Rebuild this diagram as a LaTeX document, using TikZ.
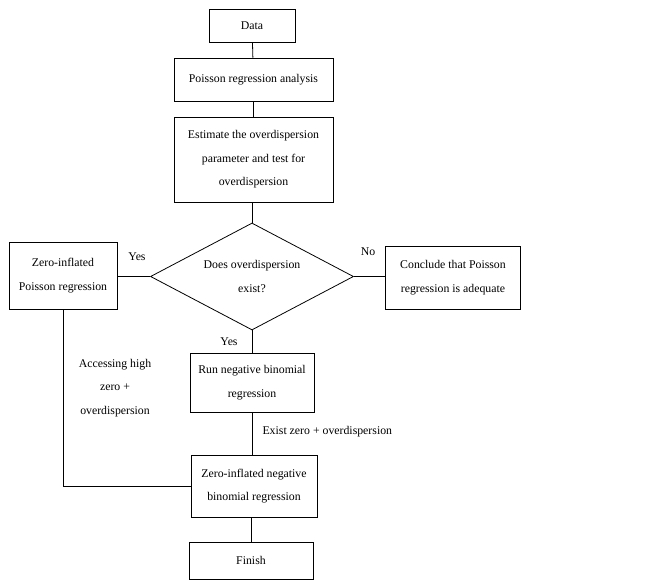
\documentclass[tikz,border=0pt]{standalone}
\usepackage{fontspec}
\setmainfont{Liberation Serif}
\usepackage{tikz}
\usetikzlibrary{shapes.geometric}

\begin{document}
\begin{tikzpicture}[x=1pt,y=-1pt,
  font=\fontsize{11.8}{23.5}\selectfont,
  box/.style={draw,line width=0.8pt,align=center,inner sep=2pt},
  decision/.style={draw,line width=0.8pt,diamond,aspect=1.9,align=center,inner sep=0pt},
  link/.style={line width=0.8pt}]
  \useasboundingbox (0,0) rectangle (662,580);
  \node[box,minimum width=86pt,minimum height=33pt] (data) at (252,25.5) {Data};
  \node[box,minimum width=159pt,minimum height=43pt] (poisson) at (253.5,79.5) {Poisson regression analysis};
  \node[box,minimum width=159pt,minimum height=85pt] (estimate) at (253.5,159.5)
    {Estimate the overdispersion\\parameter and test for\\overdispersion};
  \node[decision,minimum width=203pt,minimum height=107pt] (exist) at (252,276.5)
    {Does overdispersion\\exist?};
  \node[box,minimum width=108pt,minimum height=67pt] (zip) at (63,275.5)
    {Zero-inflated\\Poisson regression};
  \node[box,minimum width=135pt,minimum height=63pt] (conclude) at (453,277.5)
    {Conclude that Poisson\\regression is adequate};
  \node[box,minimum width=124pt,minimum height=59pt] (negbin) at (252,382.5)
    {Run negative binomial\\regression};
  \node[box,minimum width=126pt,minimum height=62pt] (zinb) at (254,486)
    {Zero-inflated negative\\binomial regression};
  \node[box,minimum width=124pt,minimum height=37pt] (finish) at (251,560.5) {Finish};

  % connectors
  \draw[link] (data) -- (poisson);
  \draw[link] (poisson.south) -- (poisson.south |- estimate.north);
  \draw[link] (estimate.south -| exist.north) -- (exist.north);
  \draw[link] (exist.west) -- (exist.west -| zip.east);
  \draw[link] (exist.east) -- (exist.east -| conclude.west);
  \draw[link] (exist.south) -- (negbin.north);
  \draw[link] (negbin.south) -- (negbin.south |- zinb.north);
  \draw[link] (zip.south) |- (zinb.west);
  \draw[link] (zinb.south -| finish.north) -- (finish.north);

  % labels
  \node (yesleft) at (137,257) {Yes};
  \node (noright) at (368,252) {No};
  \node (yesdown) at (229,342) {Yes};
  \node[anchor=west] (existlbl) at (259,432) {Exist zero + overdispersion};
  \node[align=center] (access) at (115,388) {Accessing high\\zero +\\overdispersion};
\end{tikzpicture}
\end{document}
